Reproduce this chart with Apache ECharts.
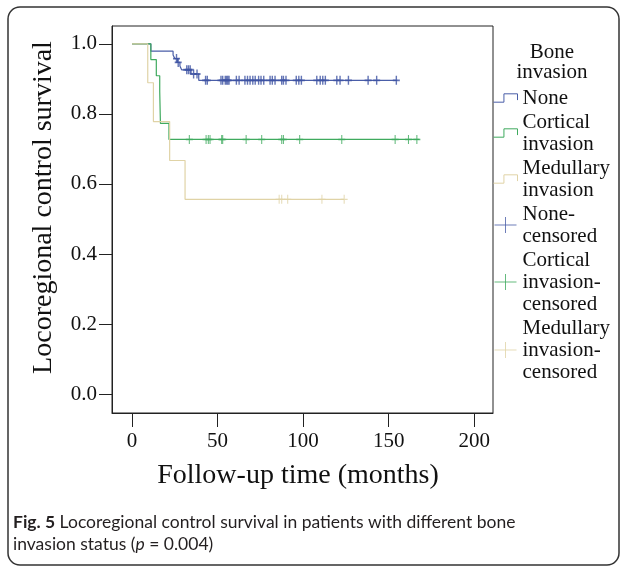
<!DOCTYPE html>
<html>
<head>
<meta charset="utf-8">
<script src="https://cdn.jsdelivr.net/npm/echarts@6/dist/echarts.min.js"></script>
<style>
html, body { margin: 0; padding: 0; background: #fff; }
#chart { width: 627px; height: 567px; }
</style>
</head>
<body>
<div id="chart"></div>
<script>
const xTicks = [0, 50, 100, 150, 200]
const yTicks = [0.0, 0.2, 0.4, 0.6, 0.8, 1.0]

const groupNames = ['None', 'Cortical invasion', 'Medullary invasion']
const censorNames = ['None-censored', 'Cortical invasion-censored', 'Medullary invasion-censored']
const legendLabels = ['None', 'Cortical\ninvasion', 'Medullary\ninvasion', 'None-\ncensored', 'Cortical\ninvasion-\ncensored', 'Medullary\ninvasion-\ncensored']
const colors = ['#4a5ea8', '#3faa5e', '#e0d3a6']

// Kaplan-Meier steps (months, survival)
const noneTime = [0, 11, 24, 25, 26.5, 28, 29, 34.5, 39, 155]
const noneSurv = [1, 0.979, 0.968, 0.958, 0.947, 0.937, 0.926, 0.914, 0.896, 0.896]
const cortTime = [0, 11, 14.2, 16.2, 16.4, 16.6, 21.6, 168]
const cortSurv = [1, 0.955, 0.909, 0.864, 0.818, 0.773, 0.727, 0.727]
const medTime = [0, 9.2, 12.5, 22, 31, 124]
const medSurv = [1, 0.889, 0.778, 0.667, 0.556, 0.556]

// censored times
const noneCens = [26, 27, 32, 33, 34, 36, 38, 43, 44, 52, 53, 54.5, 55.3, 56, 56.7, 61, 62.6, 66, 67.5, 69, 70.6, 72, 74, 75.4, 77, 80.7, 82, 83.6, 87.5, 88.5, 90, 96, 97.5, 99, 108, 110, 111.5, 113, 119.7, 121.6, 126.5, 138, 143, 154.5]
const cortCens = [33.5, 43.3, 44.6, 45.6, 52.4, 53, 66.7, 75.8, 87.5, 88.5, 98, 122.6, 153.8, 161.6, 166.5]
const medCens = [86, 87.5, 91, 111, 124]

const stepIcon = 'path://M0,8L10,8L10,0L23,0L23,6'
const plusIcon = 'path://M0,8L22,8M11,0L11,16'
const censorMark = 'path://M0,5L8,5M4,0L4,10'

function survAt (times, surv, t) {
  let s = surv[0]
  for (let i = 0; i < times.length; i++) {
    if (times[i] <= t) s = surv[i]
  }
  return s
}

const curves = [[noneTime, noneSurv, noneCens], [cortTime, cortSurv, cortCens], [medTime, medSurv, medCens]]
const serif = 'Liberation Serif'

let series = []
curves.forEach((c, i) => {
  series.push({
    name: groupNames[i],
    type: 'line',
    step: 'end',
    symbol: 'none',
    data: c[0].map((t, k) => [t, c[1][k]]),
    lineStyle: { color: colors[i], width: 1.2 },
    itemStyle: { color: colors[i] },
    z: 2
  })
})
curves.forEach((c, i) => {
  series.push({
    name: censorNames[i],
    type: 'scatter',
    symbol: censorMark,
    symbolSize: [7, 9],
    data: c[2].map(t => [t, survAt(c[0], c[1], t)]),
    itemStyle: { color: 'rgba(0,0,0,0)', borderColor: i === 0 ? '#3d52a2' : colors[i], borderWidth: i === 0 ? 1.6 : 1.2 },
    z: 3
  })
})

const allNames = groupNames.concat(censorNames)

let chart = echarts.init(document.getElementById('chart'))
let option = {
  animation: false,
  backgroundColor: '#fff',
  grid: { left: 112, right: 134, top: 26, bottom: 154, show: true, borderColor: '#222', borderWidth: 1 },
  xAxis: {
    type: 'value',
    min: -11.7,
    max: 211,
    axisLine: { show: true, onZero: false, lineStyle: { color: '#222' } },
    axisTick: { show: true, length: 14, customValues: xTicks, lineStyle: { color: '#222' } },
    axisLabel: { customValues: xTicks, margin: 18, fontFamily: serif, fontSize: 21, color: '#111' },
    splitLine: { show: false },
    name: 'Follow-up time (months)',
    nameLocation: 'middle',
    nameGap: 49,
    nameTextStyle: { fontFamily: serif, fontSize: 28, color: '#111', padding: [0, 9, 0, 0] }
  },
  yAxis: {
    type: 'value',
    min: -0.054,
    max: 1.051,
    axisLine: { show: true, onZero: false, lineStyle: { color: '#222' } },
    axisTick: { show: true, length: 13, customValues: yTicks, lineStyle: { color: '#222' } },
    axisLabel: { customValues: yTicks, margin: 15, fontFamily: serif, fontSize: 21, color: '#111', formatter: v => v.toFixed(1) },
    splitLine: { show: false },
    name: 'Locoregional control survival',
    nameLocation: 'middle',
    nameGap: 54,
    nameTextStyle: { fontFamily: serif, fontSize: 28, color: '#111', padding: [0, 0, 0, 24] }
  },
  legend: {
    orient: 'vertical',
    left: 493,
    top: 87,
    padding: 0,
    itemGap: 2,
    itemWidth: 24,
    itemHeight: 16,
    selectedMode: false,
    data: allNames.map((n, i) => ({
      name: n,
      icon: i < 3 ? stepIcon : plusIcon,
      itemStyle: { color: 'rgba(0,0,0,0)', borderColor: colors[i % 3], borderWidth: 1 }
    })),
    formatter: n => legendLabels[allNames.indexOf(n)],
    textStyle: { fontFamily: serif, fontSize: 21, lineHeight: 22, color: '#111' }
  },
  graphic: [
    {
      type: 'rect',
      shape: { x: 8, y: 7, width: 611, height: 558, r: 12 },
      style: { fill: 'none', stroke: '#333', lineWidth: 1.5 },
      silent: true
    },
    {
      type: 'text',
      x: 552,
      y: 42,
      style: { text: 'Bone\ninvasion', align: 'center', verticalAlign: 'top', fontFamily: serif, fontSize: 21, lineHeight: 20, fill: '#111' }
    },
    {
      type: 'text',
      x: 13,
      y: 511,
      style: {
        text: '{b|Fig. 5} Locoregional control survival in patients with different bone\ninvasion status ({i|p} = 0.004)',
        fontFamily: 'Lato',
        fontSize: 17.5,
        lineHeight: 22,
        fill: '#231f20',
        rich: {
          b: { fontFamily: 'Lato', fontSize: 17.5, fontWeight: 'bold', fill: '#231f20' },
          i: { fontFamily: 'Lato', fontSize: 17.5, fontStyle: 'italic', fill: '#231f20' }
        }
      }
    }
  ],
  series: series
}
chart.setOption(option)
</script>
</body>
</html>
